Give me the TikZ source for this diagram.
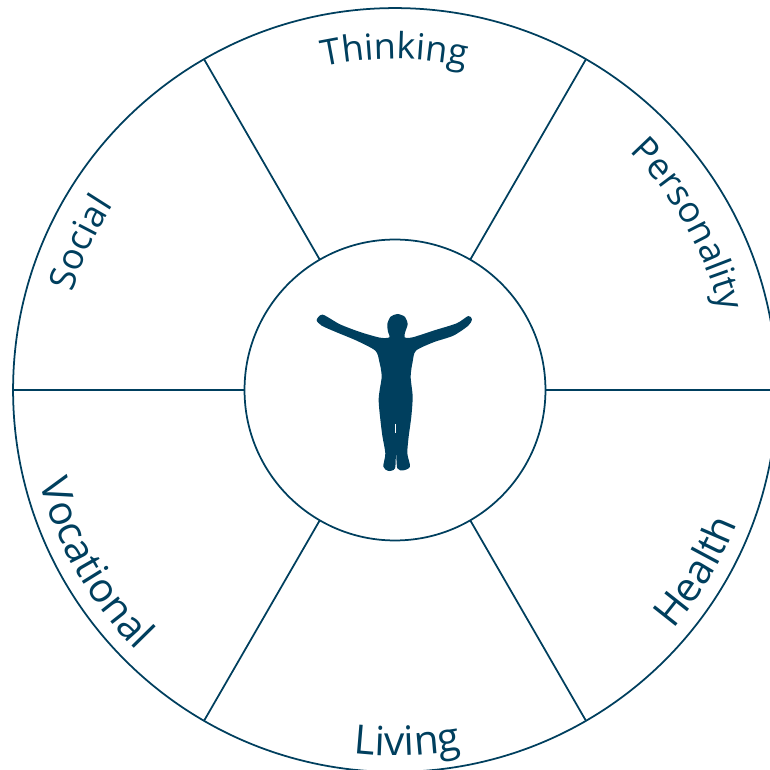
\documentclass[tikz,border=0pt]{standalone}
\usepackage{xcolor}
\usepackage{fontspec}
\setmainfont{Open Sans}
\usetikzlibrary{decorations.text}
\definecolor{wheelblue}{HTML}{003F5E}
\newcommand{\labelfont}{\color{wheelblue}\fontsize{20.5pt}{25pt}\selectfont}
\newcommand{\biglabelfont}{\color{wheelblue}\fontsize{23pt}{27pt}\selectfont}
\tikzset{
    ring/.style={draw=wheelblue, line width=1pt, circle, inner sep=0pt, outer sep=0pt},
    spoke/.style={draw=wheelblue, line width=1pt},
    arclabel/.style={decorate, decoration={text along path, text align=center, text={|\labelfont|#1}}},
    bigarclabel/.style={decorate, decoration={text along path, text align=center, text={|\biglabelfont|#1}}}
}

\begin{document}
\begin{tikzpicture}[x=0.02cm, y=0.02cm]
    \useasboundingbox (-395,-380) rectangle (374,390);
    \node[ring, minimum size=15.28cm] (rim) at (0,0) {};
    \node[ring, minimum size=6.02cm] (hub) at (0,0) {};
    % spokes
    \foreach \a in {0,60,120,180,240,300}
        \draw[spoke] (hub.\a) -- (rim.\a);
    % labels
    \path[arclabel={Thinking}] (130:331) arc (130:50:331);
    \path[arclabel={Personality}] (70:334) arc (70:-11:334);
    \path[arclabel={Social}] (195:337) arc (195:115:337);
    \path[bigarclabel={Health}] (-70:367) arc (-70:8:367);
    \path[bigarclabel={Living}] (232:366) arc (232:312:366);
    \path[bigarclabel={Vocational}] (170:367) arc (170:250:367);
    % figure
    \begin{scope}[shift={(-95,90)}, x=0.00667cm, y=-0.00667cm]
        \fill[wheelblue] plot[smooth cycle, tension=0.45] coordinates {
            (292,42) (314,50) (323,72) (316,95) (314,112) (338,112) (400,92) (470,70) (505,48)
            (516,58) (505,77) (460,107) (400,127) (348,152) (338,185) (332,230) (338,290)
            (334,350) (326,410) (322,460) (330,500) (310,511) (292,505) (288,455) (285,505)
            (265,513) (250,500) (256,460) (246,400) (236,300) (245,230) (238,185) (226,152)
            (170,122) (110,97) (65,77) (50,60) (68,44) (120,73) (180,96) (240,113)
            (268,112) (264,95) (262,72) (272,50)};
        \draw[white, line width=0.7pt] (286,372) -- (286,400);
    \end{scope}
\end{tikzpicture}
\end{document}
